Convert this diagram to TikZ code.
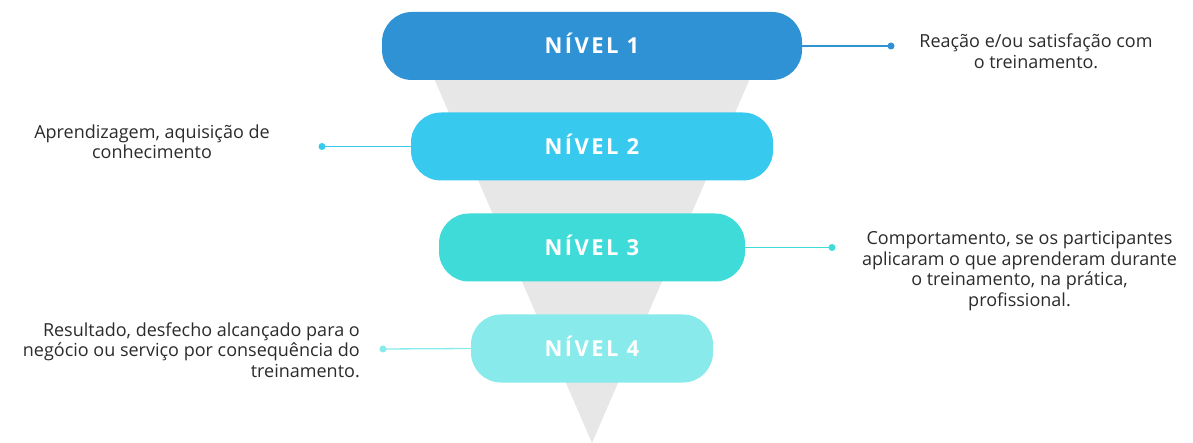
\documentclass[tikz,border=0pt]{standalone}
\usepackage{fontspec}
\setmainfont{Open Sans}
\newfontfamily\lblfont[LetterSpace=11]{Open Sans}
\definecolor{cA}{HTML}{2E92D5}
\definecolor{cB}{HTML}{38C9EF}
\definecolor{cC}{HTML}{3FDBD8}
\definecolor{cD}{HTML}{88EAEA}
\definecolor{funnelgray}{HTML}{E7E7E7}
\definecolor{txt}{HTML}{2B2B2B}
\tikzset{
  pill/.style={rectangle, rounded corners=30pt, minimum height=68pt, inner sep=0pt},
  lbl/.style={text=white, font=\lblfont\fontsize{22}{24}\selectfont\bfseries, inner sep=0pt, anchor=base},
  dotnode/.style={circle, inner sep=0pt, minimum size=7pt},
  link/.style={line width=1.3pt},
  desc/.style={font=\fontsize{18}{20.5}\selectfont, text=txt, inner sep=0pt}
}
\begin{document}
\begin{tikzpicture}[x=1pt,y=-1pt]
\useasboundingbox (0,0) rectangle (1193,443);
\fill[funnelgray] (420,46) -- (764,46) -- (592,443) -- cycle;
\node[pill, fill=cA, minimum width=420pt] (n1) at (592,46) {};
\node[pill, fill=cB, minimum width=362pt] (n2) at (592,146.5) {};
\node[pill, fill=cC, minimum width=306pt] (n3) at (592,247.5) {};
\node[pill, fill=cD, minimum width=242pt] (n4) at (592,348.5) {};
\node[lbl] (l1) at (592,54) {NÍVEL 1};
\node[lbl] (l2) at (592,154.5) {NÍVEL 2};
\node[lbl] (l3) at (592,255.5) {NÍVEL 3};
\node[lbl] (l4) at (592,356.5) {NÍVEL 4};
\node[dotnode, fill=cA] (d1) at (891,46) {};
\node[dotnode, fill=cB] (d2) at (322,146.5) {};
\node[dotnode, fill=cC] (d3) at (832,247.5) {};
\node[dotnode, fill=cD] (d4) at (383,349) {};
\draw[link, cA] (n1.east) -- (d1.center);
\draw[link, cB] (n2.west) -- (d2.center);
\draw[link, cC] (n3.east) -- (d3.center);
\draw[link, cD] (n4.west) -- (d4.center);
\node[desc, align=center] (t1) at (1036,51) {Reação e/ou satisfação com\\o treinamento.};
\node[desc, align=center] (t2) at (152,142) {Aprendizagem, aquisição de\\conhecimento};
\node[desc, align=center] (t3) at (1019.5,271) {Comportamento, se os participantes\\aplicaram o que aprenderam durante\\o treinamento, na prática,\\profissional.};
\node[desc, align=right, anchor=east] (t4) at (360,350) {Resultado, desfecho alcançado para o\\negócio ou serviço por consequência do\\treinamento.};
\end{tikzpicture}
\end{document}
